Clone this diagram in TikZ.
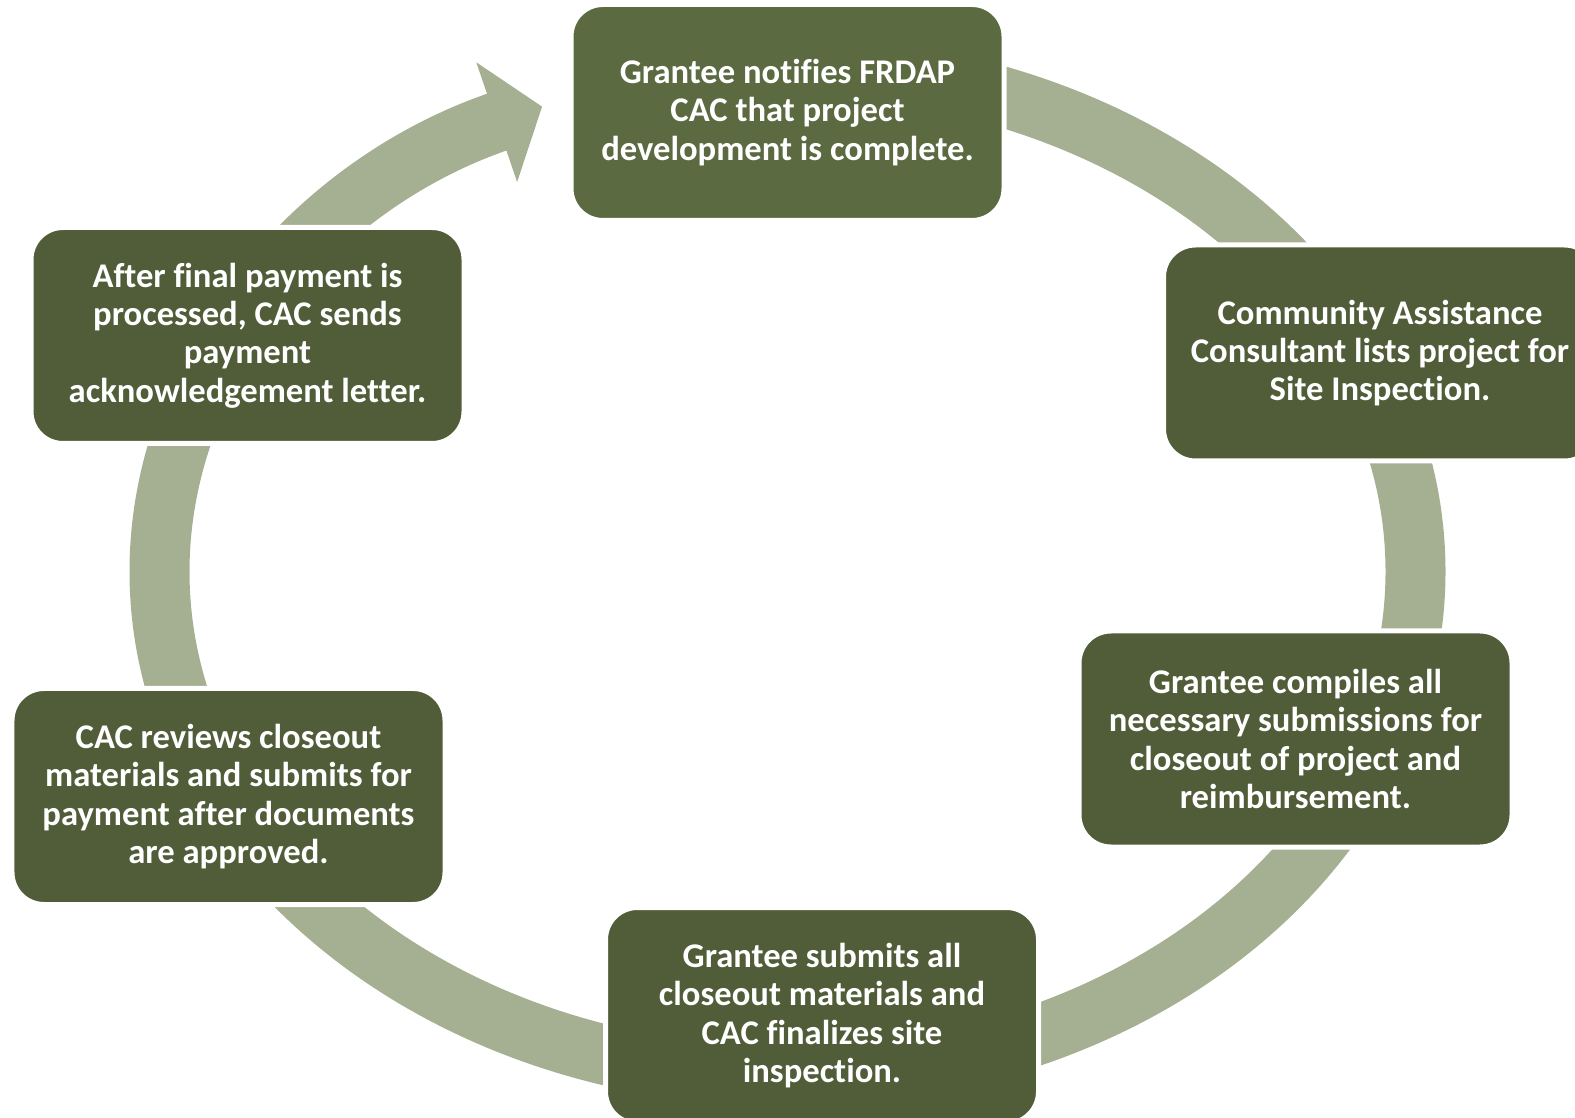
\documentclass[tikz,border=0pt]{standalone}
\usepackage{fontspec}
\setmainfont{Carlito}[Ligatures=CommonOff]
\usetikzlibrary{positioning, arrows.meta}

\definecolor{stagegreen}{RGB}{80,93,56}
\definecolor{topgreen}{RGB}{91,106,65}
\definecolor{ringgreen}{RGB}{165,175,145}

\begin{document}
\begin{tikzpicture}[node distance=2cm,
        hub/.style = {coordinate},
        stage/.style = {draw=white, line width=0.1cm, fill=stagegreen, rounded corners=0.64cm,
            minimum width=8.66cm, minimum height=4.32cm, align=center, text=white,
            font=\fontsize{19.7pt}{21.8pt}\selectfont\bfseries},
        ring/.style = {draw=ringgreen, line width=1.2cm, -{Triangle[length=0.96cm, width=2.48cm]}},
        ]
        \useasboundingbox (0,0) rectangle (31.5,22.34);
        \node [hub] (hub) at (15.75,10.91) {};

        % the cycle runs clockwise under the boxes and comes back to the first one
        \draw [ring] ([yshift=10.1cm]hub) arc[start angle=90, end angle=-247, x radius=12.56cm, y radius=10.1cm];

        \node [stage, fill=topgreen, above=6.97cm of hub] (notify) {Grantee notifies FRDAP\\CAC that project\\development is complete.};
        \node [stage, above right=2.16cm and 7.47cm of hub] (inspect) {Community Assistance\\Consultant lists project for\\Site Inspection.};
        \node [stage, below right=1.14cm and 5.78cm of hub] (compile) {Grantee compiles all\\necessary submissions for\\closeout of project and\\reimbursement.};
        \node [stage, below=6.67cm of hub, xshift=0.69cm] (submit) {Grantee submits all\\closeout materials and\\CAC finalizes site\\inspection.};
        \node [stage, below left=2.29cm and 6.8cm of hub] (review) {CAC reviews closeout\\materials and submits for\\payment after documents\\are approved.};
        \node [stage, above left=2.51cm and 6.42cm of hub] (letter) {After final payment is\\processed, CAC sends\\payment\\acknowledgement letter.};

    \end{tikzpicture}
\end{document}
